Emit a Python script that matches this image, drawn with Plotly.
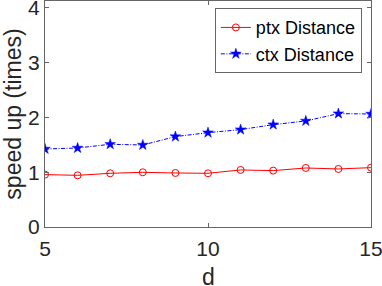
import plotly.graph_objects as go

d = [5, 6, 7, 8, 9, 10, 11, 12, 13, 14, 15]
ptx = [0.955, 0.942, 0.979, 0.997, 0.985, 0.979, 1.04, 1.028, 1.076, 1.058, 1.082]
ctx = [1.422, 1.44, 1.508, 1.495, 1.648, 1.72, 1.775, 1.866, 1.933, 2.067, 2.06]
x_ticks = [5, 10, 15]
y_ticks = [0, 1, 2, 3, 4]

FONT = "Liberation Sans, Arial, Helvetica"
TXT = "#262626"

fig = go.Figure()
fig.add_trace(go.Scatter(
    x=d, y=ptx, name="ptx Distance", mode="lines+markers",
    line=dict(color="#ff0000", width=1),
    marker=dict(symbol="circle-open", size=7, color="#ff0000", line=dict(width=1)),
))
fig.add_trace(go.Scatter(
    x=d, y=ctx, name="ctx Distance", mode="lines+markers",
    line=dict(color="#0000ff", width=1, dash="4px,1.5px,1px,1.5px"),
    marker=dict(symbol="star", size=8, color="#0000ff", line=dict(width=0.5, color="#0000ff")),
))

axis_common = dict(
    showgrid=False, zeroline=False, showline=True, linecolor="#666666", linewidth=1,
    mirror="ticks", ticks="inside", ticklen=4, tickcolor="#666666",
    tickfont=dict(family=FONT, size=21, color=TXT),
    automargin=False, ticklabeloverflow="allow",
)
fig.update_xaxes(range=[5, 15], tickvals=x_ticks, ticklabelstandoff=3, **axis_common)
fig.update_yaxes(range=[0, 4.12], tickvals=y_ticks,
                 title=dict(text="speed up (times)", font=dict(family=FONT, size=23, color=TXT)),
                 **axis_common)

fig.add_annotation(text="d", xref="paper", yref="paper", x=0.5, y=-0.222,
                   xanchor="center", yanchor="middle", showarrow=False,
                   font=dict(family=FONT, size=23, color=TXT))

fig.update_layout(
    width=382, height=286,
    margin=dict(l=45, r=11, t=1, b=59),
    plot_bgcolor="white", paper_bgcolor="white",
    legend=dict(
        x=0.972, y=0.968, xanchor="right", yanchor="top",
        bgcolor="white", bordercolor="#666666", borderwidth=1,
        font=dict(family=FONT, size=18, color="#000000"),
        tracegroupgap=0, itemwidth=30,
    ),
    showlegend=True,
)
fig.write_html("out.html", config={"displayModeBar": False},
               post_script="document.body.style.margin='0';document.body.style.overflow='hidden';")
